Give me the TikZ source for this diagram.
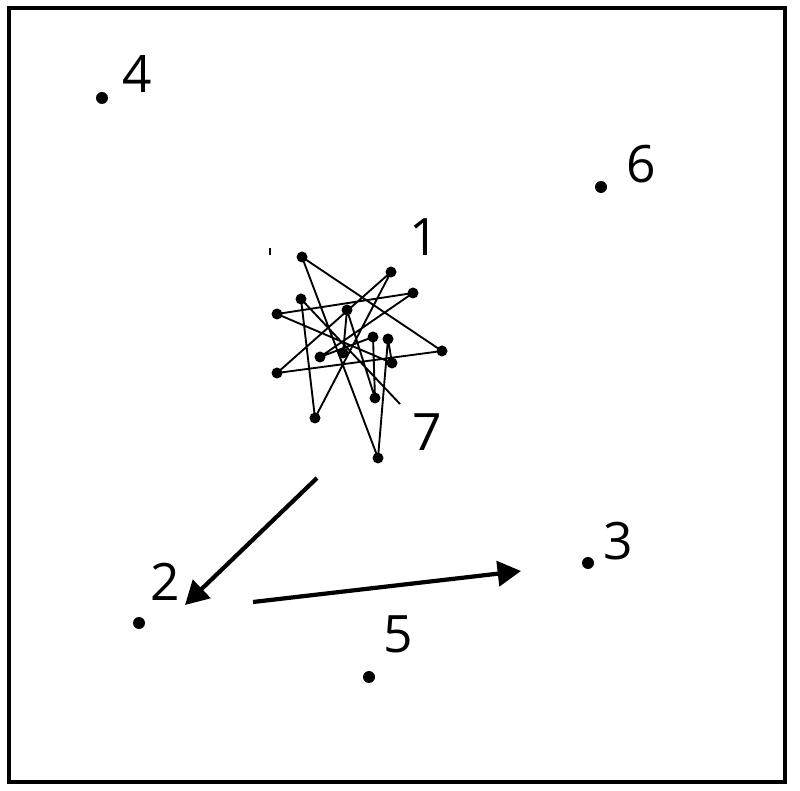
\documentclass[tikz,border=0pt]{standalone}
\usepackage{fontspec}
\setmainfont{Open Sans}
\usetikzlibrary{arrows.meta}
\begin{document}
\begin{tikzpicture}[x=0.03cm,y=-0.03cm,
    dot/.style={shape=circle,fill=black,inner sep=0pt,minimum size=0.36cm},
    cdot/.style={dot,minimum size=0.33cm},
    num/.style={inner sep=0pt,font=\fontsize{44}{48}\selectfont},
    walk/.style={line width=1.6pt,line join=round},
    move/.style={line width=3.6pt,-{Triangle[length=0.7cm,width=0.75cm]}}]
    \useasboundingbox (0,0) rectangle (800,791);
    \draw[line width=2.6pt] (9,8) rectangle (785,782);
    % outer sites
    \node[dot] (p4) at (102,98) {};
    \node[dot] (p6) at (601,187) {};
    \node[dot] (p3) at (588,563) {};
    \node[dot] (p2) at (139,623) {};
    \node[dot] (p5) at (369,677) {};
    \node[num] (l4) at (137,74) {4};
    \node[num] (l6) at (641,164) {6};
    \node[num] (l1) at (424,237) {1};
    \node[num] (l7) at (427,432) {7};
    \node[num] (l3) at (618,541) {3};
    \node[num] (l2) at (165,582) {2};
    \node[num] (l5) at (398,634) {5};
    % the cluster around site 1
    \node[cdot] (ca) at (302,257) {};
    \node[cdot] (cb) at (391,272) {};
    \node[cdot] (cc) at (413,293) {};
    \node[cdot] (cd) at (301,299) {};
    \node[cdot] (ce) at (277,314) {};
    \node[cdot] (cf) at (347,310) {};
    \node[cdot] (cg) at (373,337) {};
    \node[cdot] (ch) at (388,339) {};
    \node[cdot] (ci) at (442,351) {};
    \node[cdot] (cj) at (320,357) {};
    \node[cdot] (ck) at (343,353) {};
    \node[cdot] (cl) at (392,363) {};
    \node[cdot] (cm) at (277,373) {};
    \node[cdot] (cn) at (375,398) {};
    \node[cdot] (co) at (315,418) {};
    \node[cdot] (cp) at (378,458) {};
    \coordinate (wend) at (400,404);
    \draw[walk] (ck.center) -- (cf.center) -- (cn.center) -- (cg.center) -- (cj.center) -- (cc.center)
        -- (ce.center) -- (cl.center) -- (ch.center) -- (cp.center) -- (ca.center) -- (ci.center)
        -- (cm.center) -- (cb.center) -- (co.center) -- (cd.center) -- (wend);
    \coordinate (tick) at (270,248);
    \draw[line width=1.4pt] (tick) -- ++(0,7);
    % the two moves
    \coordinate (m1) at (317,478);
    \coordinate (m2) at (185,605);
    \coordinate (m3) at (253,602);
    \coordinate (m4) at (521,571);
    \draw[move] (m1) -- (m2);
    \draw[move] (m3) -- (m4);
\end{tikzpicture}
\end{document}
